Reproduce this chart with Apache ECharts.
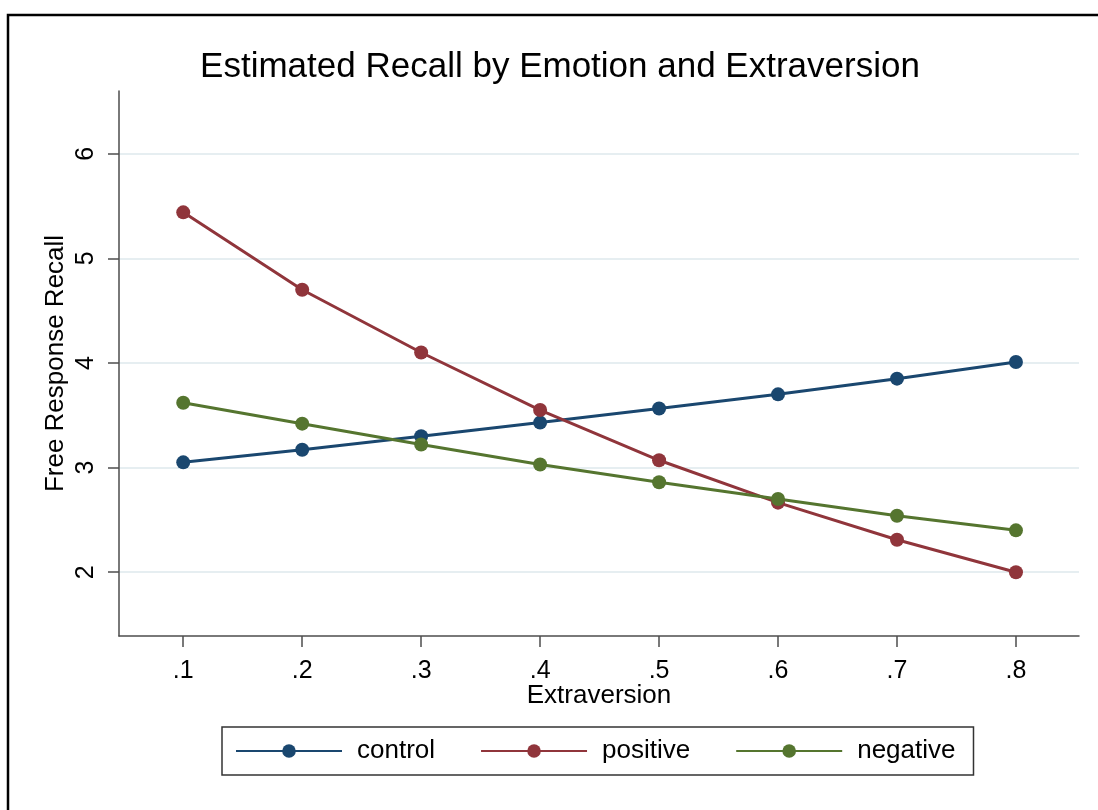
<!DOCTYPE html>
<html>
<head>
<meta charset="utf-8">
<script src="https://cdn.jsdelivr.net/npm/echarts@6/dist/echarts.min.js"></script>
<style>
html,body{margin:0;padding:0;background:#fff;}
#chart{width:1098px;height:810px;}
</style>
</head>
<body>
<div id="chart"></div>
<script>
const titleText = 'Estimated Recall by Emotion and Extraversion';
const xTitle = 'Extraversion';
const yTitle = 'Free Response Recall';
const extraversion = [0.1, 0.2, 0.3, 0.4, 0.5, 0.6, 0.7, 0.8];
const yTicks = [2, 3, 4, 5, 6];
const seriesNames = ['control', 'positive', 'negative'];
const control  = [3.05, 3.17, 3.30, 3.43, 3.565, 3.70, 3.85, 4.01];
const positive = [5.44, 4.70, 4.10, 3.55, 3.07, 2.665, 2.31, 2.00];
const negative = [3.62, 3.42, 3.22, 3.03, 2.86, 2.70, 2.54, 2.40];
const colors = ['#1a476f', '#90353b', '#55752f'];

const FONT = '"Liberation Sans", Arial, sans-serif';
const allValues = [control, positive, negative];

const chart = echarts.init(document.getElementById('chart'));
const option = {
  backgroundColor: '#fff',
  animation: false,
  title: {
    text: titleText,
    left: 555,
    top: 45,
    textAlign: 'center',
    textStyle: {fontFamily: FONT, fontSize: 35, fontWeight: 'normal', color: '#000'}
  },
  grid: {left: 119, right: 19, top: 91, bottom: 174, containLabel: false},
  xAxis: {
    type: 'value',
    min: 0.046,
    max: 0.853,
    name: xTitle,
    nameLocation: 'middle',
    nameGap: 47,
    nameMoveOverlap: false,
    nameTextStyle: {fontFamily: FONT, fontSize: 26, color: '#000'},
    axisLine: {show: true, lineStyle: {color: '#4d4d4d', width: 1.5}},
    axisTick: {show: true, length: 11, customValues: extraversion, lineStyle: {color: '#4d4d4d', width: 1.5}},
    axisLabel: {
      customValues: extraversion,
      margin: 23,
      fontFamily: FONT, fontSize: 25, color: '#000',
      formatter: v => v.toFixed(1).replace(/^0/, '')
    },
    splitLine: {show: false}
  },
  yAxis: {
    type: 'value',
    min: 1.39,
    max: 6.6,
    name: yTitle,
    nameLocation: 'middle',
    nameGap: 50,
    nameMoveOverlap: false,
    nameTextStyle: {fontFamily: FONT, fontSize: 26, color: '#000'},
    axisLine: {show: true, lineStyle: {color: '#4d4d4d', width: 1.5}},
    axisTick: {show: true, length: 11, customValues: yTicks, lineStyle: {color: '#4d4d4d', width: 1.5}},
    axisLabel: {
      customValues: yTicks,
      rotate: 90,
      margin: 20,
      fontFamily: FONT, fontSize: 25, color: '#000'
    },
    splitLine: {show: true, lineStyle: {color: '#e6eef1', width: 2}}
  },
  legend: {
    left: 222,
    top: 727,
    orient: 'horizontal',
    padding: [11, 18, 11, 13],
    borderColor: '#333',
    borderWidth: 1.5,
    itemWidth: 106,
    itemHeight: 17,
    itemGap: 45,
    textStyle: {fontFamily: FONT, fontSize: 26, color: '#000', padding: [0, 0, 0, 10]},
    data: seriesNames
  },
  graphic: [{
    type: 'rect',
    shape: {x: 8, y: 15, width: 1120, height: 820},
    style: {fill: 'none', stroke: '#000', lineWidth: 2.5},
    silent: true
  }],
  series: seriesNames.map((name, i) => ({
    name: name,
    type: 'line',
    data: extraversion.map((x, j) => [x, allValues[i][j]]),
    symbol: 'circle',
    symbolSize: 14,
    showSymbol: true,
    lineStyle: {color: colors[i], width: 3},
    itemStyle: {color: colors[i]},
    emphasis: {disabled: true}
  }))
};
chart.setOption(option);
</script>
</body>
</html>
